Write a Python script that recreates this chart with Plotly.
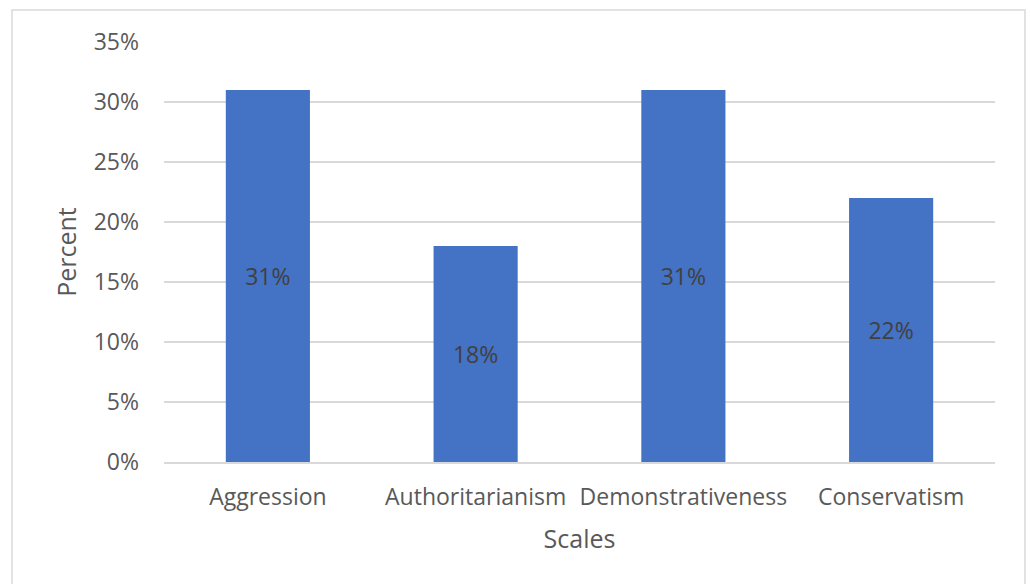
import plotly.graph_objects as go

categories = ["Aggression", "Authoritarianism", "Demonstrativeness", "Conservatism"]
values = [31, 18, 31, 22]
labels = ["31%", "18%", "31%", "22%"]
tick_vals = [0, 5, 10, 15, 20, 25, 30, 35]
tick_text = ["0%", "5%", "10%", "15%", "20%", "25%", "30%", "35%"]

W, H = 1030, 584
ml, mr, mt, mb = 164, 35, 42, 122
pw, ph = W - ml - mr, H - mt - mb
FONT = "Open Sans, sans-serif"

fig = go.Figure(go.Bar(
    x=categories, y=values, text=labels,
    textposition="inside", insidetextanchor="middle",
    textfont=dict(family=FONT, size=23, color="#404040"),
    marker=dict(color="#4472C4", line=dict(width=0)),
    cliponaxis=False,
))

# outer chart border
x0 = (12 - ml) / pw
x1 = (1025 - ml) / pw
y1 = (H - mb - 10) / ph
y0 = (H - mb - 600) / ph
fig.add_shape(type="rect", xref="paper", yref="paper", x0=x0, x1=x1, y0=y0, y1=y1,
              line=dict(color="#d9d9d9", width=1.5), fillcolor="rgba(0,0,0,0)", layer="below")

fig.update_layout(
    width=W, height=H,
    margin=dict(l=ml, r=mr, t=mt, b=mb),
    paper_bgcolor="white", plot_bgcolor="white",
    bargap=0.595,
    showlegend=False,
    uniformtext=dict(minsize=8, mode="show"),
    font=dict(family=FONT, size=23, color="#595959"),
    xaxis=dict(
        title=dict(text="Scales", font=dict(size=25, color="#595959"), standoff=20),
        showline=True, linecolor="#d9d9d9", linewidth=2,
        ticks="", tickfont=dict(size=23, color="#595959"),
        ticklabelstandoff=13,
        showgrid=False,
    ),
    yaxis=dict(
        title=dict(text="Percent", font=dict(size=25, color="#595959"), standoff=9),
        range=[0, 35], tickvals=tick_vals, ticktext=tick_text,
        showgrid=True, gridcolor="#d9d9d9", gridwidth=1.5,
        zeroline=False, ticks="", tickfont=dict(size=23, color="#595959"),
        ticklabelstandoff=24,
        showline=False,
    ),
)

fig.write_html("out.html")
